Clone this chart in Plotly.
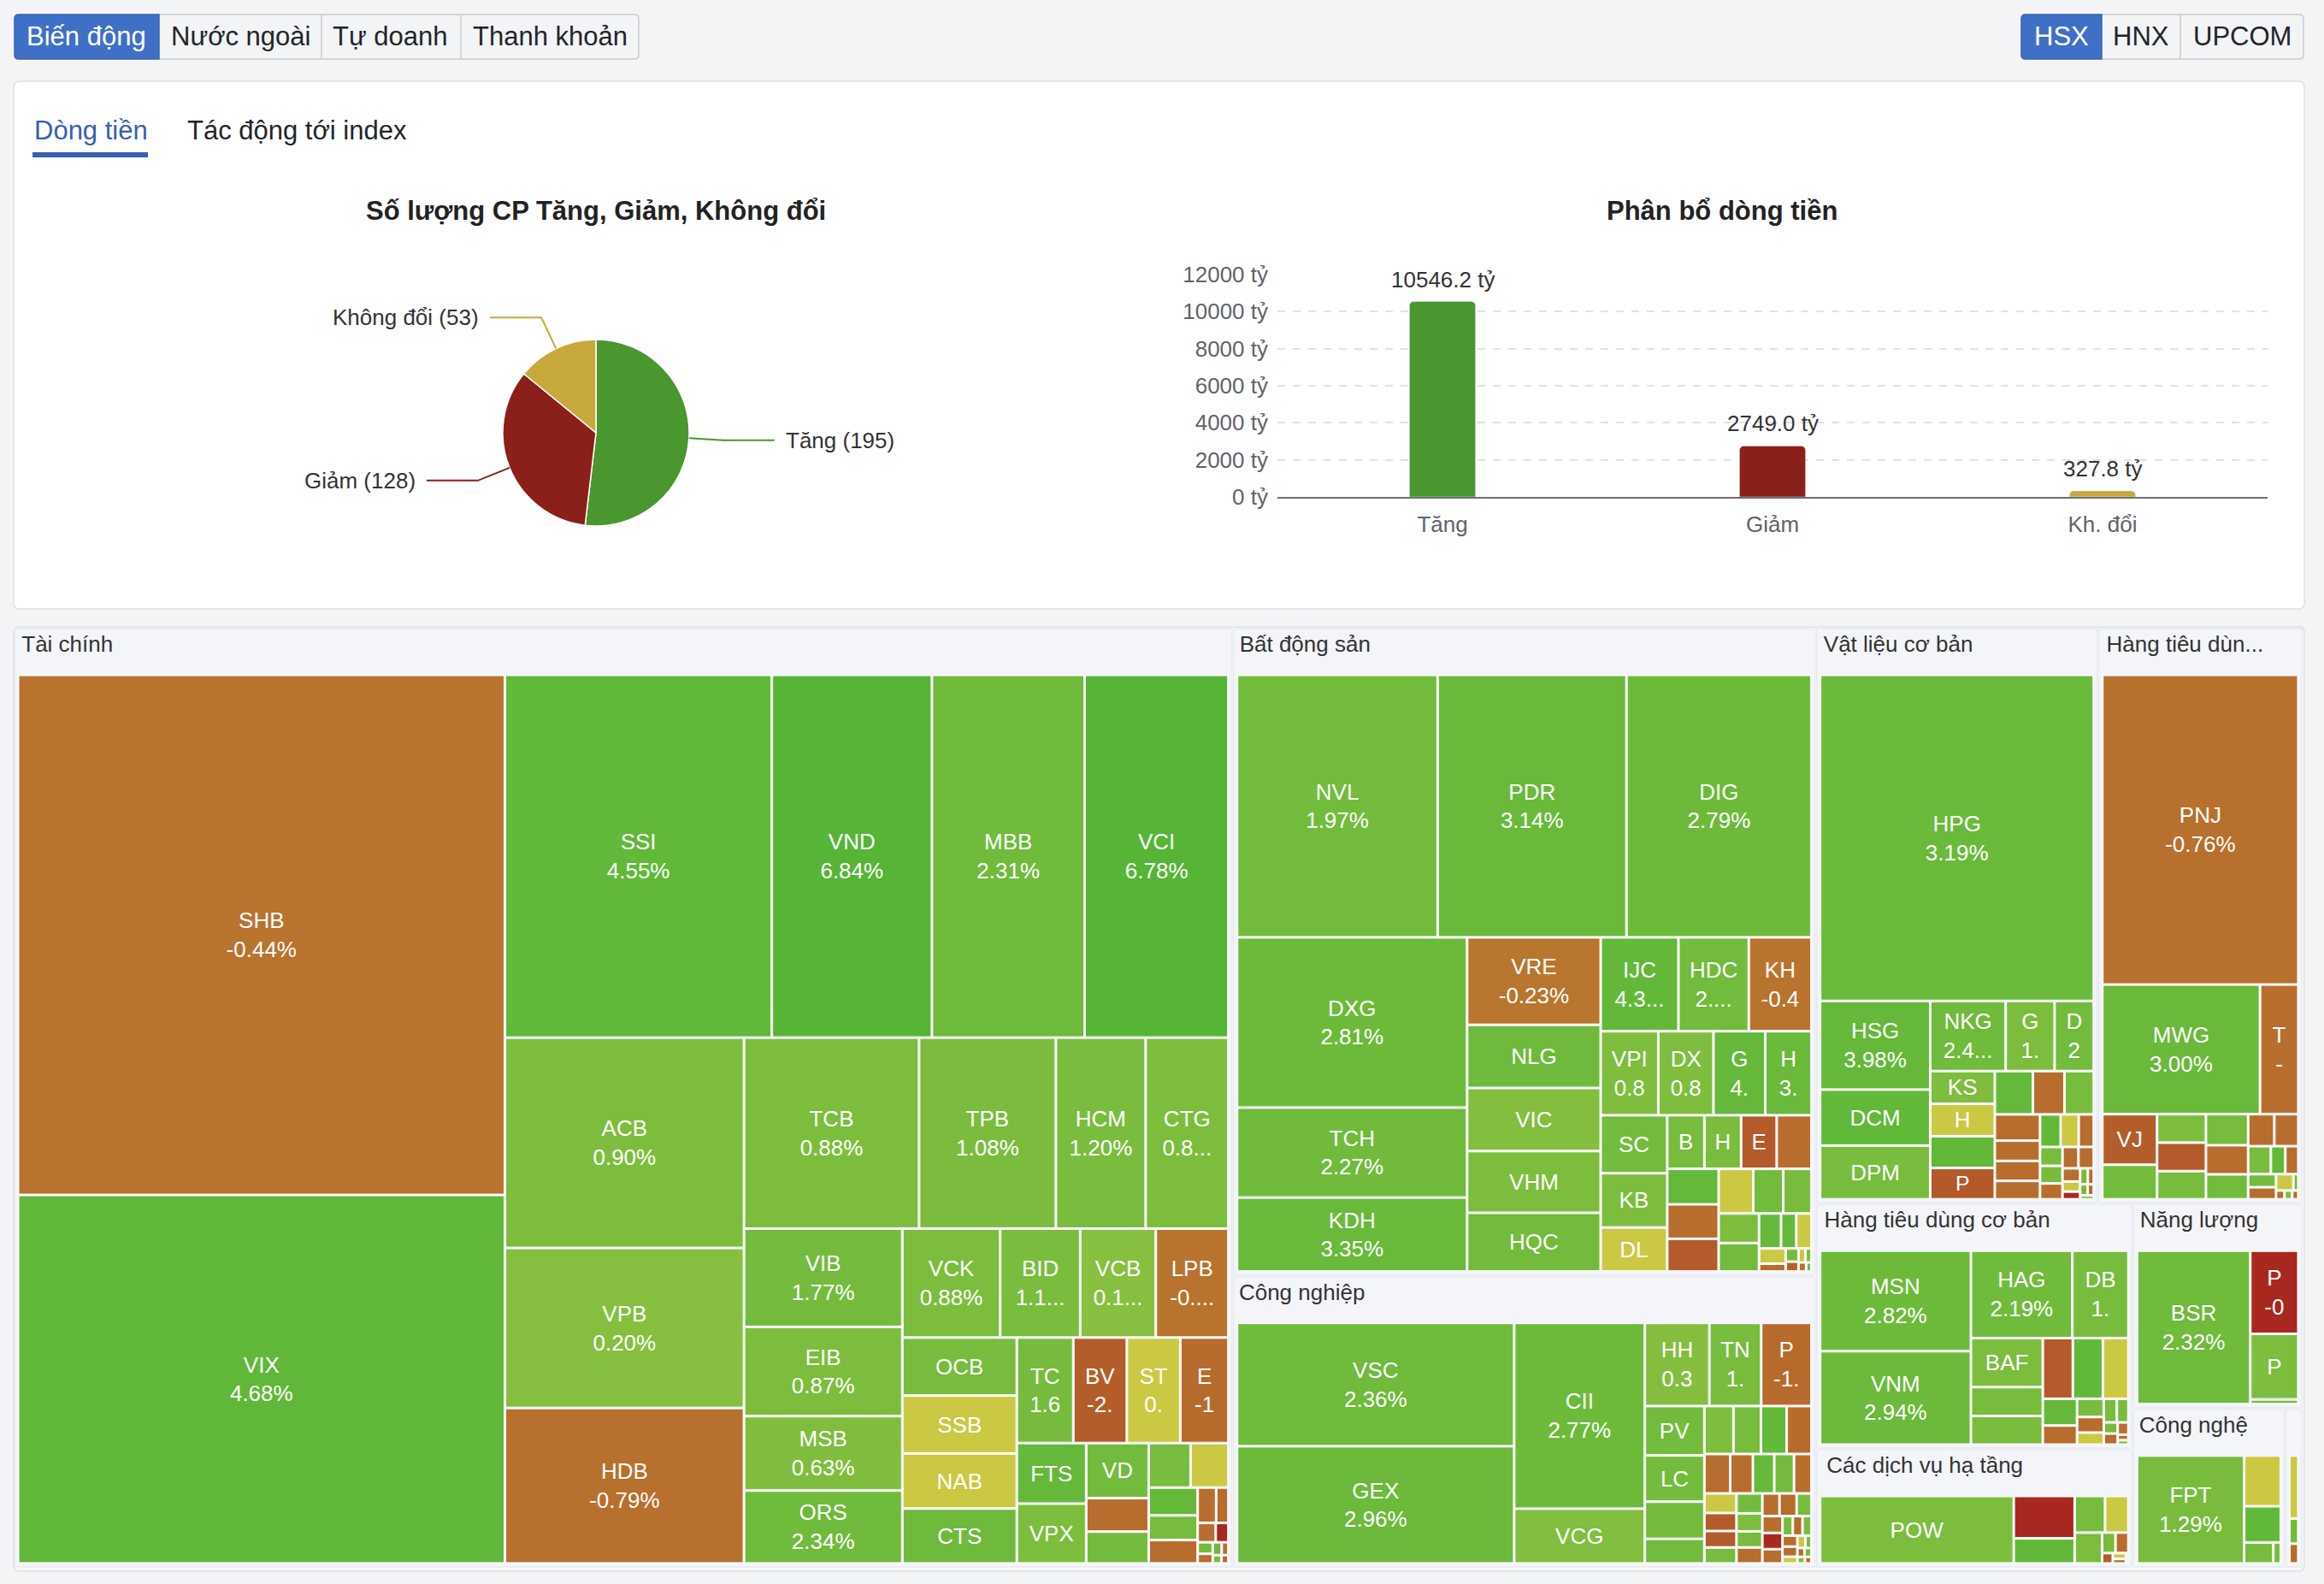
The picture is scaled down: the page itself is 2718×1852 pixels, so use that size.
import math
import plotly.graph_objects as go

W, H = 2718, 1852
FONT = "Liberation Sans, Arial, Helvetica, sans-serif"

# ---------------- data ----------------
PIE_LABELS = ["Tăng", "Giảm", "Không đổi"]
PIE_COUNTS = [195, 128, 53]
PIE_COLORS = ["#4a962f", "#8b1f1a", "#c7a83b"]

BAR_CATS = ["Tăng", "Giảm", "Kh. đổi"]
BAR_VALUES = [10546.2, 2749.0, 327.8]
BAR_COLORS = ["#4a962f", "#8b1f1a", "#c7a83b"]
BAR_TICKS = [0, 2000, 4000, 6000, 8000, 10000, 12000]

SECTOR_SHOWN = ["Tài chính", "Bất động sản", "Công nghiệp", "Vật liệu cơ bản", "Hàng tiêu dùn...",
                "Hàng tiêu dùng cơ bản", "Các dịch vụ hạ tầng", "Năng lượng", "Công nghệ", ""]

TC_TEXT = ["SHB\n-0.44%", "VIX\n4.68%", "SSI\n4.55%", "VND\n6.84%", "MBB\n2.31%", "VCI\n6.78%", "ACB\n0.90%",
           "VPB\n0.20%", "HDB\n-0.79%", "TCB\n0.88%", "TPB\n1.08%", "HCM\n1.20%", "CTG\n0.8...", "VIB\n1.77%",
           "EIB\n0.87%", "MSB\n0.63%", "ORS\n2.34%", "VCK\n0.88%", "BID\n1.1...", "VCB\n0.1...", "LPB\n-0....",
           "OCB", "SSB", "NAB", "CTS", "TC\n1.6", "BV\n-2.", "ST\n0.", "E\n-1", "FTS", "VPX", "VD"] + [""] * 17
TC_VALUES = [1743.4, 1235.3, 666.3, 399.8, 381.3, 359.1, 346.1, 263.2, 255.9, 230.2, 179.9, 118.0, 108.9, 107.1,
             97.3, 81.1, 79.5, 73.4, 60.0, 56.7, 54.5, 45.7, 45.6, 43.4, 43.3, 41.0, 38.9, 38.8, 35.0, 28.9, 28.6,
             23.7, 14.4, 13.7, 12.8, 11.6, 9.4, 8.3, 7.9, 4.5, 3.0, 2.4, 1.7, 1.2, 1.0, 0.8, 0.6, 0.5, 0.4]
TC_PCT = [-0.44, 4.68, 4.55, 6.84, 2.31, 6.78, 0.90, 0.20, -0.79, 0.88, 1.08, 1.20, 0.85, 1.77, 0.87, 0.63, 2.34,
          0.88, 1.15, 0.15, -0.5, 1.4, 0, 0, 2.5, 1.6, -2.3, 0, -1.2, 4.0, 1.0, 2.0,
          -1.0, 2.0, 1.5, 0, 4.0, 1.5, -1.0, -1.0, -1.2, -1.0, -6.9, 2.0, -1.0, 3.0, -1.0, 1.0, -1.5]

BDS_TEXT = ["NVL\n1.97%", "PDR\n3.14%", "DIG\n2.79%", "DXG\n2.81%", "TCH\n2.27%", "KDH\n3.35%", "VRE\n-0.23%",
            "NLG", "VIC", "VHM", "HQC", "IJC\n4.3...", "HDC\n2....", "KH\n-0.4", "VPI\n0.8", "DX\n0.8", "G\n4.",
            "H\n3.", "SC", "KB", "DL", "B", "H", "E"] + [""] * 20
BDS_VALUES = [375.0, 353.0, 346.0, 279.0, 147.4, 121.3, 83.2, 60.1, 60.0, 58.7, 55.9, 52.0, 47.0, 42.0, 34.5,
              33.0, 31.0, 27.7, 27.5, 25.7, 20.9, 14.2, 14.0, 13.6, 13.3, 13.0, 12.6, 12.0, 11.0, 9.5, 9.0,
              8.5, 8.2, 5.5, 3.8, 3.8, 2.9, 1.5, 1.2, 0.9, 0.7, 0.6, 0.5, 0.35]
BDS_PCT = [1.97, 3.14, 2.79, 2.81, 2.27, 3.35, -0.23, 2.5, 0.4, 1.0, 2.0, 4.3, 2.0, -0.4, 0.8, 0.8, 4.0, 3.0, 2.0,
           1.0, 0, 1.5, 1.2, -2.5, -1.0, 4.0, -1.0, -2.5, 0, 2.0, 1.5, 1.0, 2.0, 3.5, 4.0, 0, 0, -1.0, 1.5, -2.0,
           0, 1.0, -1.0, 2.0]

CN_TEXT = ["VSC\n2.36%", "GEX\n2.96%", "CII\n2.77%", "VCG", "HH\n0.3", "TN\n1.", "P\n-1.", "PV", "LC"] + [""] * 37
CN_VALUES = [272.0, 258.6, 193.1, 57.0, 42.7, 34.3, 33.3, 23.4, 21.9, 17.6, 11.7, 11.1, 10.5, 9.8, 9.5, 8.1, 7.1,
             6.7, 6.2, 5.5, 5.0, 4.6, 4.2, 4.1, 4.1, 3.7, 3.3, 3.3, 3.1, 3.1, 2.7, 2.7, 2.6, 2.3, 1.6, 1.5, 1.4,
             1.3, 1.2, 0.8, 0.8, 0.6, 0.5, 0.5, 0.4, 0.35]
CN_PCT = [2.36, 2.96, 2.77, 0.5, 0.3, 1.5, -1.2, 2.0, 2.0, 2.0, 2.0, 1.0, 1.5, 4.5, -1.2, -1.0, -1.0, 4.0, 2.0,
          -1.0, 0, -2.5, -2.5, 1.5, 2.0, 1.0, 1.5, -1.0, -1.0, -1.0, 1.5, -1.0, -6.9, -1.0, 1.5, -1.0, 1.5, -1.0,
          -1.0, 0, 0, 1.5, -1.0, 2.0, 1.0, -1.0]

VL_TEXT = ["HPG\n3.19%", "HSG\n3.98%", "DCM", "DPM", "NKG\n2.4...", "G\n1.", "D\n2", "KS", "H", "", "P"] + [""] * 23
VL_VALUES = [652.9, 71.4, 45.1, 43.3, 38.7, 25.1, 20.1, 15.5, 15.3, 15.0, 14.8, 12.1, 10.0, 9.3, 8.7, 6.7, 6.6,
             6.1, 4.9, 4.3, 3.6, 3.1, 2.9, 2.6, 2.5, 2.4, 1.7, 1.3, 1.0, 0.9, 0.7, 0.6, 0.5, 0.4]
VL_PCT = [3.19, 3.98, 4.5, 1.5, 2.4, 1.0, 2.0, 0.8, 0, 4.5, -2.8, 4.0, -1.0, 1.5, -1.0, -1.0, -1.0, -1.0, 4.5, 0,
          -1.0, 1.5, 1.5, -1.0, -1.0, -1.0, -1.0, 0, -6.9, 1.5, -1.0, 2.0, -1.0, 1.0]

HTD_TEXT = ["PNJ\n-0.76%", "MWG\n3.00%", "T\n-", "VJ"] + [""] * 19
HTD_VALUES = [449.4, 151.3, 36.8, 20.5, 14.0, 10.3, 10.3, 10.2, 9.7, 9.1, 7.8, 6.2, 5.7, 4.7, 3.0, 2.7, 2.7, 2.5,
              2.1, 0.6, 0.55, 0.5, 0.4]
HTD_PCT = [-0.76, 3.00, -0.9, -2.3, 2.0, 1.0, -2.5, 1.5, 1.5, -1.0, 2.0, -1.0, -1.0, 1.5, 4.5, -1.0, 2.0, -1.0,
           0, 3.0, -1.0, 1.0, -1.0]

HTDCB_TEXT = ["MSN\n2.82%", "VNM\n2.94%", "HAG\n2.19%", "DB\n1.", "BAF"] + [""] * 17
HTDCB_VALUES = [127.3, 118.4, 74.5, 41.2, 29.6, 17.4, 17.3, 15.3, 15.3, 13.0, 7.7, 5.5, 4.1, 3.5, 2.7, 2.6, 2.3,
                1.3, 1.3, 1.1, 0.5, 0.4]
HTDCB_PCT = [2.82, 2.94, 2.19, 1.5, 1.0, 1.5, 1.2, -2.5, 4.5, 0, 4.0, -1.0, 1.5, -1.0, 0, 1.5, 1.5, 2.0, -1.0,
             -1.0, -1.0, 1.0]

DVHT_TEXT = ["POW"] + [""] * 11
DVHT_VALUES = [152.8, 30.2, 17.9, 13.0, 10.0, 9.9, 3.2, 3.1, 1.3, 0.9, 0.7, 0.3]
DVHT_PCT = [1.0, -6.9, 4.5, 1.5, 0, 1.0, 1.5, -1.0, -2.5, 0, -1.0, 1.0]

NL_TEXT = ["BSR\n2.32%", "P\n-0", "P", ""]
NL_VALUES = [158.0, 36.3, 28.6, 2.1]
NL_PCT = [2.32, -6.9, 1.0, 1.5]

CNG_TEXT = ["FPT\n1.29%", "", "", "", ""]
CNG_VALUES = [116.9, 18.8, 13.4, 6.2, 1.6]
CNG_PCT = [1.29, 0, 4.5, 1.5, 1.5]

OT_TEXT = ["", "", ""]
OT_VALUES = [10.5, 4.2, 3.3]
OT_PCT = [0, 2.0, -1.0]

SECTOR_DATA = [(TC_TEXT, TC_VALUES, TC_PCT), (BDS_TEXT, BDS_VALUES, BDS_PCT), (CN_TEXT, CN_VALUES, CN_PCT),
               (VL_TEXT, VL_VALUES, VL_PCT), (HTD_TEXT, HTD_VALUES, HTD_PCT),
               (HTDCB_TEXT, HTDCB_VALUES, HTDCB_PCT), (DVHT_TEXT, DVHT_VALUES, DVHT_PCT),
               (NL_TEXT, NL_VALUES, NL_PCT), (CNG_TEXT, CNG_VALUES, CNG_PCT), (OT_TEXT, OT_VALUES, OT_PCT)]

# invisible filler after each header so that the (centred) header text sits at the left -- text layout only
HEADER_FILL = [180, 71, 72, 19, 5, 12, 16, 6, 5, 0]


# ---------------- helpers ----------------
def px(x):
    return x / W


def py(y):
    return 1 - y / H


def pct_color(p):
    if abs(p) < 1e-9:
        return "#cbc843"
    if p > 0:
        t = min(p / 7.0, 1.0) ** 0.6
        a, b = (141, 192, 65), (85, 181, 55)
    else:
        t = min(-p / 7.0, 1.0)
        a, b = (185, 121, 48), (168, 38, 30)
    c = [round(a[i] + (b[i] - a[i]) * t) for i in range(3)]
    return "rgb(%d,%d,%d)" % tuple(c)


def rrect_path(x0, y0, x1, y1, r, tl=True, tr=True, br=True, bl=True):
    rt = r if tl else 0
    rr = r if tr else 0
    rb = r if br else 0
    rl = r if bl else 0
    p = "M %f,%f " % (px(x0 + rt), py(y0))
    p += "L %f,%f " % (px(x1 - rr), py(y0))
    if rr:
        p += "Q %f,%f %f,%f " % (px(x1), py(y0), px(x1), py(y0 + rr))
    p += "L %f,%f " % (px(x1), py(y1 - rb))
    if rb:
        p += "Q %f,%f %f,%f " % (px(x1), py(y1), px(x1 - rb), py(y1))
    p += "L %f,%f " % (px(x0 + rl), py(y1))
    if rl:
        p += "Q %f,%f %f,%f " % (px(x0), py(y1), px(x0), py(y1 - rl))
    p += "L %f,%f " % (px(x0), py(y0 + rt))
    if rt:
        p += "Q %f,%f %f,%f " % (px(x0), py(y0), px(x0 + rt), py(y0))
    return p + "Z"


shapes = []
annotations = []


def add_rect(x0, y0, x1, y1, fill, line="rgba(0,0,0,0)", lw=0, r=0, **corners):
    shapes.append(dict(type="path", xref="paper", yref="paper", layer="below",
                       path=rrect_path(x0, y0, x1, y1, r, **corners),
                       fillcolor=fill, line=dict(color=line, width=lw)))


def add_text(x, y, text, size=26, color="#212529", xanchor="center", bold=False):
    annotations.append(dict(xref="paper", yref="paper", x=px(x), y=py(y), text=("<b>%s</b>" % text) if bold else text,
                            showarrow=False, xanchor=xanchor, yanchor="middle",
                            font=dict(family=FONT, size=size, color=color)))


# ---------------- page chrome ----------------
BTN_BORDER = "#c8ccd1"
add_rect(17, 17, 747, 69, "#f3f4f6", BTN_BORDER, 1.5, r=5)
add_rect(17, 17, 186, 69, "#3f70c5", "#3a66b5", 1.5, r=5, tr=False, br=False)
for xd in (376, 539):
    shapes.append(dict(type="line", xref="paper", yref="paper", layer="below", x0=px(xd), x1=px(xd),
                       y0=py(18), y1=py(68), line=dict(color=BTN_BORDER, width=1.5)))
add_text(101, 43, "Biến động", 31, "#ffffff")
add_text(281, 43, "Nước ngoài", 31)
add_text(457, 43, "Tự doanh", 31)
add_text(643, 43, "Thanh khoản", 31)
add_rect(2364, 17, 2694, 69, "#f3f4f6", BTN_BORDER, 1.5, r=5)
add_rect(2364, 17, 2458, 69, "#3f70c5", "#3a66b5", 1.5, r=5, tr=False, br=False)
shapes.append(dict(type="line", xref="paper", yref="paper", layer="below", x0=px(2550), x1=px(2550),
                   y0=py(18), y1=py(68), line=dict(color=BTN_BORDER, width=1.5)))
add_text(2411, 43, "HSX", 31, "#ffffff")
add_text(2504, 43, "HNX", 31)
add_text(2622, 43, "UPCOM", 31)

# card 1
add_rect(16, 95, 2695, 712, "#ffffff", "#dcdfe4", 1.5, r=7)
add_text(38, 152, "Dòng tiền", 31, "#3560b0", xanchor="left")
add_text(217, 152, "Tác động tới index", 31, "#212529", xanchor="left")
add_rect(38, 178, 173, 184, "#3560b0")
add_text(697, 246, "Số lượng CP Tăng, Giảm, Không đổi", 31, "#222222", bold=True)
add_text(2014, 246, "Phân bổ dòng tiền", 31, "#222222", bold=True)

# card 2
add_rect(16, 733, 2695, 1837, "#f6f8fa", "#dcdfe4", 1.5, r=7)

# ---------------- pie ----------------
PIE_CX, PIE_CY, PIE_R = 697, 506, 109
fig = go.Figure()
fig.add_trace(go.Pie(labels=PIE_LABELS, values=PIE_COUNTS, sort=False, direction="clockwise", rotation=0,
                     marker=dict(colors=PIE_COLORS, line=dict(color="#ffffff", width=1.5)),
                     textinfo="none", hoverinfo="skip", showlegend=False,
                     domain=dict(x=[px(PIE_CX - PIE_R), px(PIE_CX + PIE_R)],
                                 y=[py(PIE_CY + PIE_R), py(PIE_CY - PIE_R)])))
total = float(sum(PIE_COUNTS))
cum = 0.0
for lab, val, col in zip(PIE_LABELS, PIE_COUNTS, PIE_COLORS):
    mid = (cum + val / 2.0) / total * 2 * math.pi
    cum += val
    s, c = math.sin(mid), math.cos(mid)
    ex, ey = PIE_CX + PIE_R * s, PIE_CY - PIE_R * c
    bx, by = PIE_CX + (PIE_R + 40) * s, PIE_CY - (PIE_R + 40) * c
    sign = 1 if s >= 0 else -1
    cx2 = bx + sign * 60
    shapes.append(dict(type="path", xref="paper", yref="paper", layer="above",
                       path="M %f,%f L %f,%f L %f,%f" % (px(ex), py(ey), px(bx), py(by), px(cx2), py(by)),
                       line=dict(color=col, width=2)))
    add_text(cx2 + sign * 11, by, "%s (%d)" % (lab, val), 26, "#333333",
             xanchor="left" if sign > 0 else "right")

# ---------------- bar ----------------
fig.add_trace(go.Bar(x=BAR_CATS, y=BAR_VALUES, marker=dict(color=BAR_COLORS, cornerradius=5), width=0.2,
                     hoverinfo="skip", showlegend=False, xaxis="x", yaxis="y"))
for cat, v in zip(BAR_CATS, BAR_VALUES):
    annotations.append(dict(xref="x", yref="y", x=cat, y=v, text="%.1f tỷ" % v, showarrow=False,
                            yanchor="bottom", yshift=9, font=dict(family=FONT, size=26, color="#333333")))

# ---------------- treemap ----------------
ids, labels, parents, values, colors, texts, tcolors, lcolors, lwidths = [], [], [], [], [], [], [], [], []
ids.append("root"); labels.append(""); parents.append(""); values.append(0)
colors.append("rgba(0,0,0,0)"); texts.append(""); tcolors.append("rgba(0,0,0,0)")
lcolors.append("rgba(0,0,0,0)"); lwidths.append(0)
for si, (shown, nfill, (stext, svals, spct)) in enumerate(zip(SECTOR_SHOWN, HEADER_FILL, SECTOR_DATA)):
    sid = "S%d" % si
    head = shown
    if nfill:
        head += '<span style="fill:rgba(0,0,0,0)">' + "." * nfill + "</span>"
    ids.append(sid); labels.append(head); parents.append("root"); values.append(0)
    colors.append("#f3f5f8"); texts.append(""); tcolors.append("#333333")
    lcolors.append("#e2e5ea"); lwidths.append(1)
    for li, (t, v, p) in enumerate(zip(stext, svals, spct)):
        ids.append("%s-%d" % (sid, li))
        labels.append(t.split("\n")[0] if t else "")
        parents.append(sid)
        values.append(v)
        colors.append(pct_color(p))
        texts.append(t.replace("\n", "<br>"))
        tcolors.append("#ffffff")
        lcolors.append("#ffffff")
        lwidths.append(1)

fig.add_trace(go.Treemap(
    ids=ids, labels=labels, parents=parents, values=values, branchvalues="remainder",
    text=texts, textinfo="text", textposition="middle center",
    textfont=dict(family=FONT, size=26, color=tcolors),
    insidetextfont=dict(family=FONT, size=26, color=tcolors),
    marker=dict(colors=colors, line=dict(color=lcolors, width=lwidths), depthfade=False,
                pad=dict(t=55, l=5, r=5, b=5)),
    tiling=dict(packing="squarify", squarifyratio=1.618, pad=2),
    pathbar=dict(visible=False), sort=True, hoverinfo="skip",
    domain=dict(x=[px(12), px(2697)], y=[py(1837), py(680)]),
))

fig.update_layout(
    width=W, height=H, margin=dict(l=0, r=0, t=0, b=0, pad=0, autoexpand=False),
    paper_bgcolor="#f3f4f6", plot_bgcolor="rgba(0,0,0,0)",
    font=dict(family=FONT, size=26, color="#333333"),
    showlegend=False,
    xaxis=dict(domain=[px(1494), px(2652)], type="category", categoryorder="array", categoryarray=BAR_CATS,
               showline=True, linecolor="#6e7079", linewidth=2, showgrid=False, zeroline=False,
               ticks="", tickfont=dict(family=FONT, size=26, color="#5f636b"), ticklabelstandoff=8,
               anchor="y", fixedrange=True, automargin=False),
    yaxis=dict(domain=[py(581), py(321)], range=[0, 12000], tickvals=BAR_TICKS,
               ticktext=["%d tỷ" % v for v in BAR_TICKS],
               showgrid=True, gridcolor="#dfe2e6", griddash="dash", gridwidth=2,
               zeroline=False, showline=False, ticks="", ticklabelstandoff=10,
               tickfont=dict(family=FONT, size=26, color="#5f636b"), anchor="x", fixedrange=True,
               automargin=False),
    shapes=shapes, annotations=annotations,
)

fig.write_html("out.html",
               post_script="document.documentElement.style.margin='0';document.body.style.margin='0';"
                           "document.documentElement.style.overflow='hidden';document.body.style.overflow='hidden';")
